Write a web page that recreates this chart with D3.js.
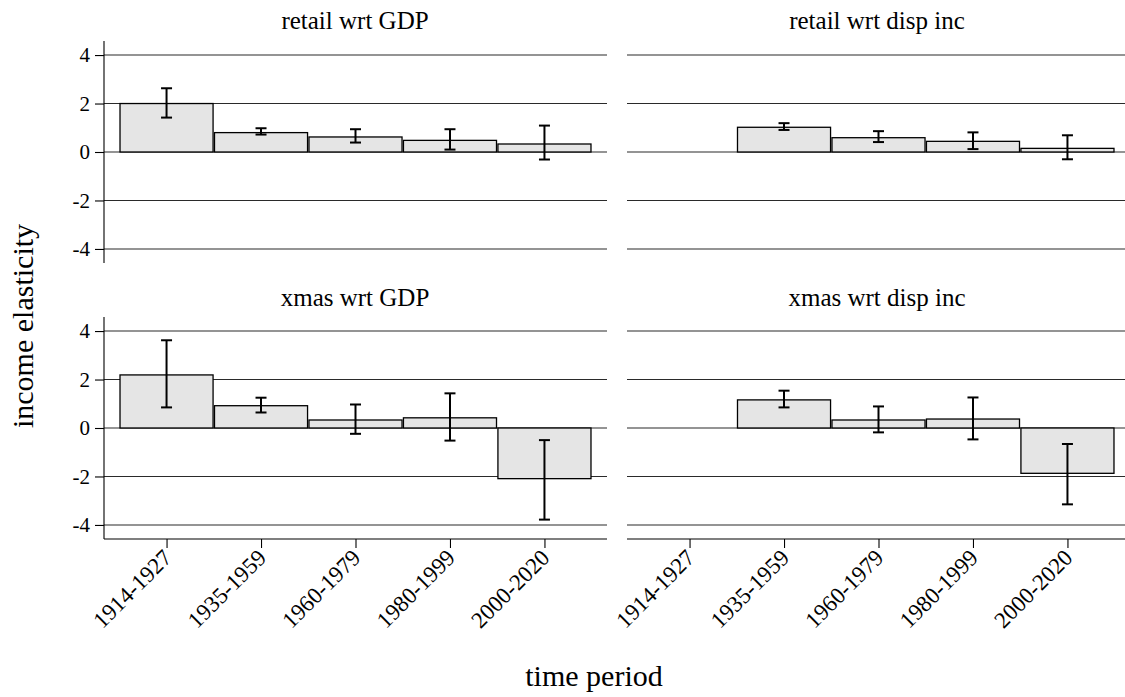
<!DOCTYPE html>
<html>
<head>
<meta charset="utf-8">
<script src="https://cdn.jsdelivr.net/npm/d3@7"></script>
<style>
  body { margin: 0; background: #fff; }
  svg { display: block; }
  svg text { font-family: "Liberation Serif", "Times New Roman", serif !important; fill: #000; }
</style>
</head>
<body>
<svg id="chart" width="1125" height="697"></svg>
<script>
// ---- data ----
const periods = ["1914-1927", "1935-1959", "1960-1979", "1980-1999", "2000-2020"];
const panelTitles = ["retail wrt GDP", "retail wrt disp inc", "xmas wrt GDP", "xmas wrt disp inc"];
const yTicks = [-4, -2, 0, 2, 4];

// estimates, lower bound, upper bound (null = missing)
const retailGDP      = [2.00, 0.80, 0.62, 0.48, 0.33];
const retailGDPLo    = [1.42, 0.72, 0.39, 0.10, -0.31];
const retailGDPHi    = [2.63, 0.98, 0.94, 0.94, 1.09];

const retailInc      = [null, 1.02, 0.59, 0.44, 0.15];
const retailIncLo    = [null, 0.91, 0.41, 0.12, -0.30];
const retailIncHi    = [null, 1.19, 0.86, 0.81, 0.69];

const xmasGDP        = [2.19, 0.92, 0.33, 0.42, -2.09];
const xmasGDPLo      = [0.85, 0.64, -0.24, -0.52, -3.78];
const xmasGDPHi      = [3.62, 1.25, 0.97, 1.43, -0.50];

const xmasInc        = [null, 1.16, 0.33, 0.37, -1.87];
const xmasIncLo      = [null, 0.85, -0.18, -0.47, -3.15];
const xmasIncHi      = [null, 1.54, 0.89, 1.26, -0.66];

const panels = [
  { title: panelTitles[0], v: retailGDP, lo: retailGDPLo, hi: retailGDPHi, col: 0, row: 0 },
  { title: panelTitles[1], v: retailInc, lo: retailIncLo, hi: retailIncHi, col: 1, row: 0 },
  { title: panelTitles[2], v: xmasGDP,   lo: xmasGDPLo,   hi: xmasGDPHi,   col: 0, row: 1 },
  { title: panelTitles[3], v: xmasInc,   lo: xmasIncLo,   hi: xmasIncHi,   col: 1, row: 1 }
];

// ---- layout ----
const FONT = "Liberation Serif, Times New Roman, serif";
const svg = d3.select("#chart").attr("font-family", FONT);
const colX = [[104, 607], [627, 1130]];
const rowY = [[263, 41], [539, 317]];
const yDomain = [-4.58, 4.58];
const xDomain = [0.338, 5.662];

panels.forEach(p => {
  const [x0, x1] = colX[p.col];
  const [yb, yt] = rowY[p.row];
  const x = d3.scaleLinear().domain(xDomain).range([x0, x1]);
  const y = d3.scaleLinear().domain(yDomain).range([yb, yt]);
  const bw = (x(2) - x(1)) * 0.985;
  const g = svg.append("g");

  // gridlines
  g.selectAll("line.grid").data(yTicks).enter().append("line")
    .attr("x1", x0).attr("x2", x1)
    .attr("y1", d => y(d)).attr("y2", d => y(d))
    .attr("stroke", "#2a2a2a").attr("stroke-width", 1.1);

  // bars
  const idx = d3.range(periods.length).filter(i => p.v[i] !== null);
  g.selectAll("rect.bar").data(idx).enter().append("rect")
    .attr("x", i => x(i + 1) - bw / 2)
    .attr("width", bw)
    .attr("y", i => y(Math.max(0, p.v[i])))
    .attr("height", i => Math.abs(y(p.v[i]) - y(0)))
    .attr("fill", "#e5e5e5").attr("stroke", "#000").attr("stroke-width", 1.3);

  // error bars
  const cap = 5.5;
  const eb = g.selectAll("g.err").data(idx).enter().append("g")
    .attr("stroke", "#000").attr("stroke-width", 2);
  eb.append("line").attr("x1", i => x(i + 1)).attr("x2", i => x(i + 1))
    .attr("y1", i => y(p.lo[i])).attr("y2", i => y(p.hi[i]));
  eb.append("line").attr("x1", i => x(i + 1) - cap).attr("x2", i => x(i + 1) + cap)
    .attr("y1", i => y(p.lo[i])).attr("y2", i => y(p.lo[i]));
  eb.append("line").attr("x1", i => x(i + 1) - cap).attr("x2", i => x(i + 1) + cap)
    .attr("y1", i => y(p.hi[i])).attr("y2", i => y(p.hi[i]));

  // title
  g.append("text").attr("x", p.col === 0 ? 355 : 877)
    .attr("y", p.row === 0 ? 29 : 306)
    .attr("text-anchor", "middle").attr("font-size", 25).attr("font-family", FONT).text(p.title);

  // y axis (left column only)
  if (p.col === 0) {
    const ax = g.append("g").attr("transform", `translate(${x0},0)`)
      .call(d3.axisLeft(y).tickValues(yTicks).tickSize(9).tickPadding(5).tickFormat(d3.format("d")));
    ax.attr("font-family", FONT);
    ax.select(".domain").attr("stroke", "#000").attr("stroke-width", 1.1).attr("d", `M0,${yb}V${yt}`);
    ax.selectAll(".tick line").attr("stroke", "#000").attr("stroke-width", 1.1);
    ax.selectAll(".tick text").attr("font-size", 21)
      .text(d => d < 0 ? "-" + Math.abs(d) : d);
  }

  // x axis (bottom row only)
  if (p.row === 1) {
    const ax = g.append("g").attr("transform", `translate(0,${yb})`)
      .call(d3.axisBottom(x).tickValues([1, 2, 3, 4, 5]).tickSize(9).tickPadding(4)
        .tickFormat(d => periods[d - 1]));
    ax.attr("font-family", FONT);
    ax.select(".domain").attr("stroke", "#000").attr("stroke-width", 1.1).attr("d", `M${x0},0H${x1}`);
    ax.selectAll(".tick line").attr("stroke", "#000").attr("stroke-width", 1.1);
    ax.selectAll(".tick text").attr("font-size", 23)
      .attr("text-anchor", "end").attr("dy", null)
      .attr("transform", "translate(6,20) rotate(-45)")
      .attr("y", 0).attr("x", 0);
  }
});

// axis titles
svg.append("text").attr("transform", "translate(33,326) rotate(-90)")
  .attr("text-anchor", "middle").attr("font-size", 30).attr("font-family", FONT).text("income elasticity");
svg.append("text").attr("x", 594).attr("y", 686)
  .attr("text-anchor", "middle").attr("font-size", 30).attr("font-family", FONT).text("time period");
</script>
</body>
</html>
